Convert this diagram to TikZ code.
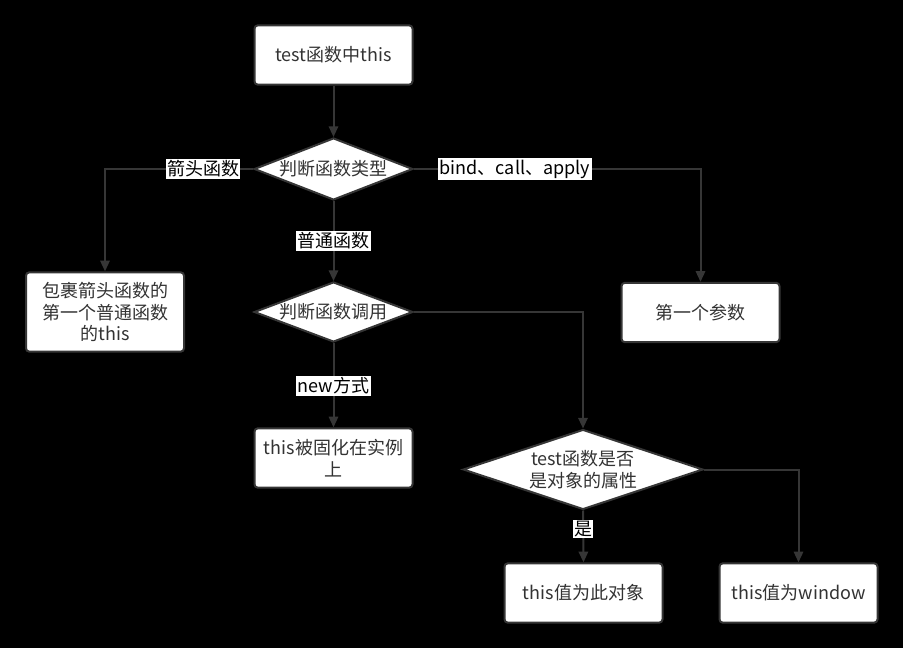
\documentclass[tikz,border=0pt]{standalone}
\usepackage{fontspec}
\setmainfont{Noto Sans CJK SC}
\usetikzlibrary{shapes.geometric,arrows.meta}
\definecolor{edge}{HTML}{363636}
\definecolor{txt}{HTML}{333333}
\begin{document}
\begin{tikzpicture}[x=0.75pt,y=-0.75pt,
  every node/.style={font=\fontsize{13.5pt}{16pt}\selectfont, text=txt},
  procbox/.style={draw=edge, line width=1.5pt, fill=white, rounded corners=2.5pt, minimum width=118.5pt, minimum height=44.5pt, align=center, inner sep=2pt},
  decision/.style={draw=edge, line width=1.5pt, fill=white, diamond, aspect=2.6, inner sep=0pt, align=center},
  conn/.style={draw=edge, line width=1.5pt, -{Triangle[length=8pt,width=7pt]}},
  lbl/.style={fill=white, text=black, inner sep=1pt, font=\fontsize{13.5pt}{15pt}\selectfont}]
\fill[black] (0,0) rectangle (903,648);
\useasboundingbox (0,0) rectangle (903,648);

\node[procbox] (start) at (333.5,55) {test函数中this};
\node[decision, minimum width=119pt, minimum height=46.5pt] (d1) at (333.5,169) {};
\node at (d1) {判断函数类型};
\node[procbox, minimum height=59.5pt] (wrap) at (105,312) {包裹箭头函数的\\第一个普通函数\\的this};
\node[procbox] (first) at (700.5,312.5) {第一个参数};
\node[decision, minimum width=119pt, minimum height=45pt] (d2) at (333.5,312) {};
\node at (d2) {判断函数调用};
\node[procbox] (fixed) at (333.5,458) {this被固化在实例\\上};
\node[decision, minimum width=180pt, minimum height=60pt] (d3) at (583,469.5) {};
\node[align=center] at (d3) {test函数是否\\是对象的属性};
\node[procbox] (obj) at (583.5,593) {this值为此对象};
\node[procbox] (win) at (798.5,593) {this值为window};

\draw[conn] (start) -- (d1);
\draw[conn] (d1.west) -| (wrap.north);
\draw[conn] (d1.east) -| (first.north);
\draw[conn] (d1.south) -- (d2.north);
\draw[conn] (d2.south) -- (fixed.north);
\draw[conn] (d2.east) -| (d3.north);
\draw[conn] (d3.south) -- (obj.north);
\draw[conn] (d3.east) -| (win.north);

\node[lbl] (l1) at (203,169) {箭头函数};
\node[lbl] (l2) at (515,169) {bind、call、apply};
\node[lbl] (l3) at (333.5,241) {普通函数};
\node[lbl] (l4) at (333.5,386) {new方式};
\node[lbl] (l5) at (583,529) {是};
\end{tikzpicture}
\end{document}
